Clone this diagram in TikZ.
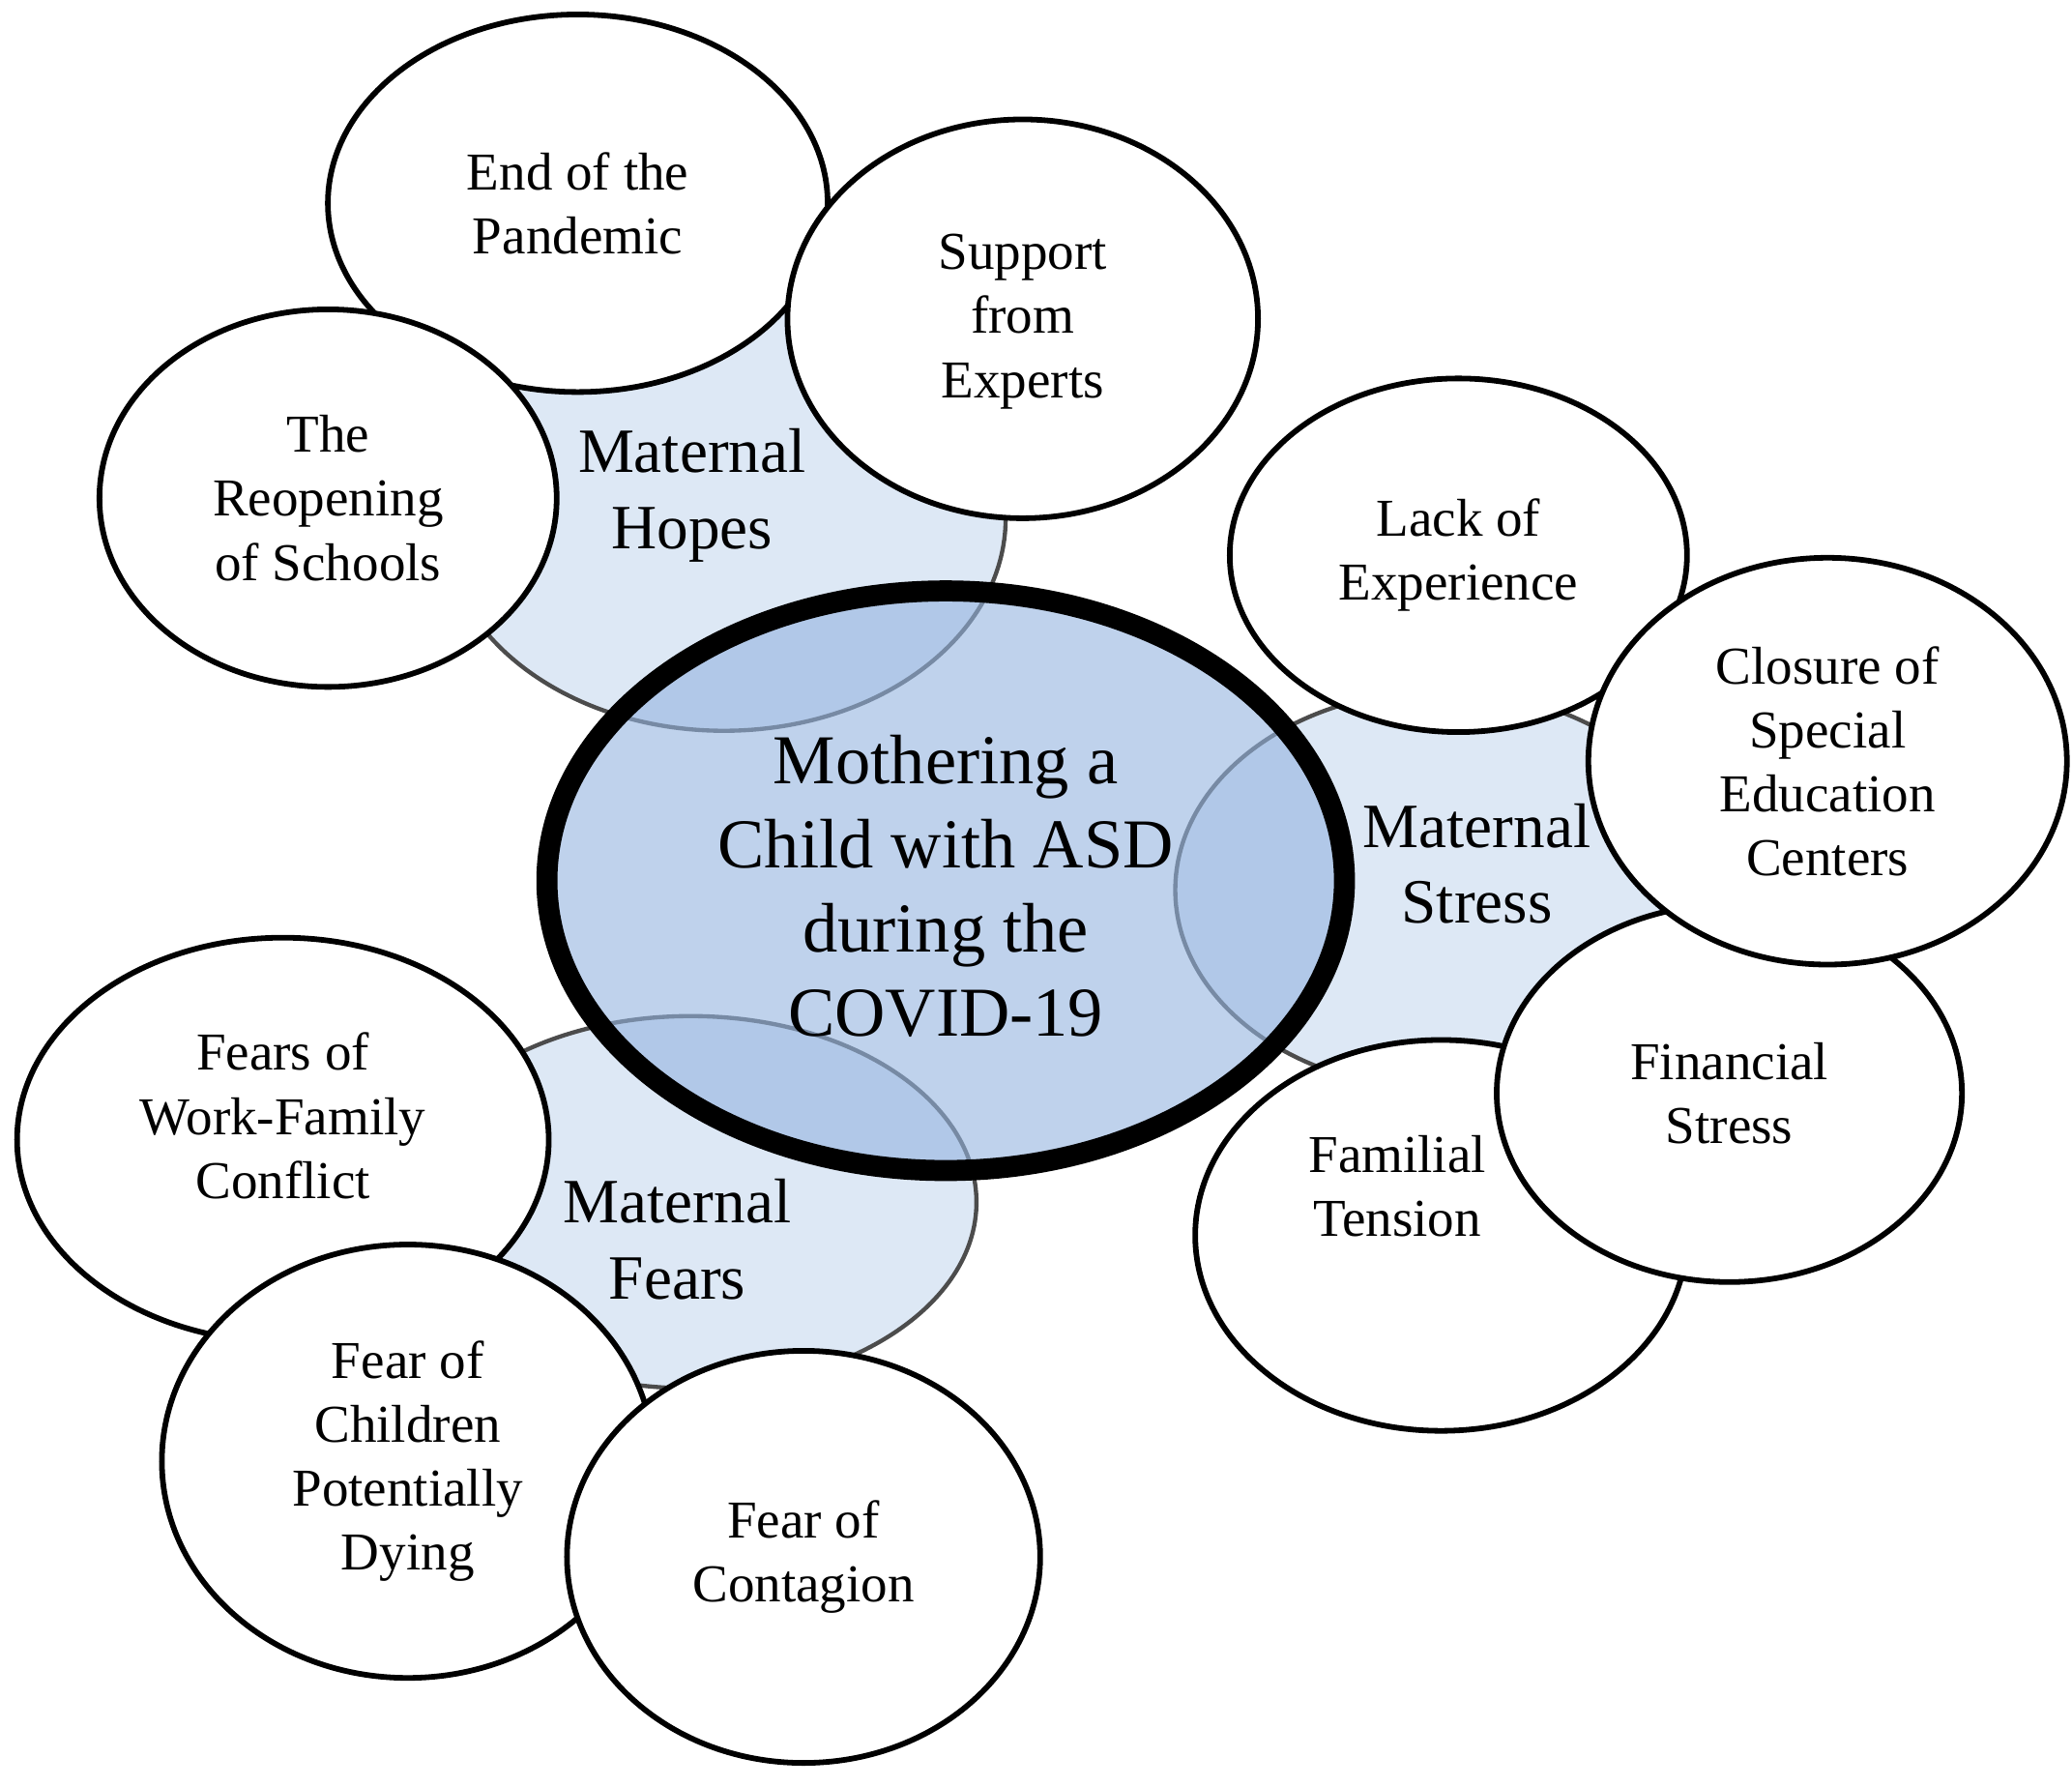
\documentclass[tikz,border=0pt]{standalone}
\usepackage{fontspec}
\setmainfont{Liberation Serif}
\usetikzlibrary{shapes.geometric}
\definecolor{lite}{HTML}{DDE8F5}
\definecolor{core}{HTML}{94B4E0}
\begin{document}
\begin{tikzpicture}[x=0.01cm,y=-0.01cm,
  el/.style 2 args={ellipse,draw=black,line width=1.2pt,inner sep=0pt,minimum width=#1*0.02cm,minimum height=#2*0.02cm,align=center},
  leaf/.style={fill=white,font=\fontsize{11.4}{13.7}\selectfont},
  theme/.style={fill=lite,draw=black!70,line width=0.9pt,font=\fontsize{13.5}{16.2}\selectfont},
]
\useasboundingbox (0,0) rectangle (1560,1345);
% themes
\node[el={212}{160},theme] (hopes) at (545,390) {};
\node[el={200}{150},theme] (stress) at (1085,670) {};
\node[el={215}{140},theme] (fears) at (520,905) {};
% central
\node[el={300}{218},fill=core,fill opacity=0.6,line width=4.5pt,text opacity=1,font=\fontsize{15}{18}\selectfont] (core) at (712,663) {};
\node[align=center,font=\fontsize{15}{18}\selectfont] (coret) at (712,667) {Mothering a\\Child with ASD\\during the\\COVID-19};
% leaves
\node[el={188}{142},leaf] (end) at (435,153) {End of the\\Pandemic};
\node[el={172}{142},leaf] (reop) at (247,375) {The\\Reopening\\of Schools};
\node[el={177}{150},leaf] (supp) at (770,240) {};
\node[align=center,font=\fontsize{11.4}{13.7}\selectfont] (suppt) at (770,242) {Support\\from\\Experts};
\node[el={172}{133},leaf] (lack) at (1098,418) {Lack of\\Experience};
\node[el={185}{147},leaf] (fam) at (1085,930) {};
\node[align=center,font=\fontsize{11.4}{13.7}\selectfont] (famt) at (1052,893) {Familial\\Tension};
\node[el={175}{142},leaf] (fin) at (1302,823) {Financial\\Stress};
\node[el={180}{153},leaf] (clos) at (1376,573) {Closure of\\Special\\Education\\Centers};
\node[el={200}{152},leaf] (work) at (213,858) {};
\node[align=center,font=\fontsize{11.4}{13.7}\selectfont] (workt) at (213,840) {Fears of\\Work-Family\\Conflict};
\node[el={185}{163},leaf] (child) at (307,1100) {Fear of\\Children\\Potentially\\Dying};
\node[el={178}{155},leaf] (cont) at (605,1172) {Fear of\\Contagion};
% theme labels
\node[align=center,font=\fontsize{13.5}{16.2}\selectfont] (hopest) at (521,373) {Maternal\\Hopes};
\node[align=center,font=\fontsize{13.5}{16.2}\selectfont] (stresst) at (1112,650) {Maternal\\Stress};
\node[align=center,font=\fontsize{13.5}{16.2}\selectfont] (fearst) at (510,933) {Maternal\\Fears};
\end{tikzpicture}
\end{document}
